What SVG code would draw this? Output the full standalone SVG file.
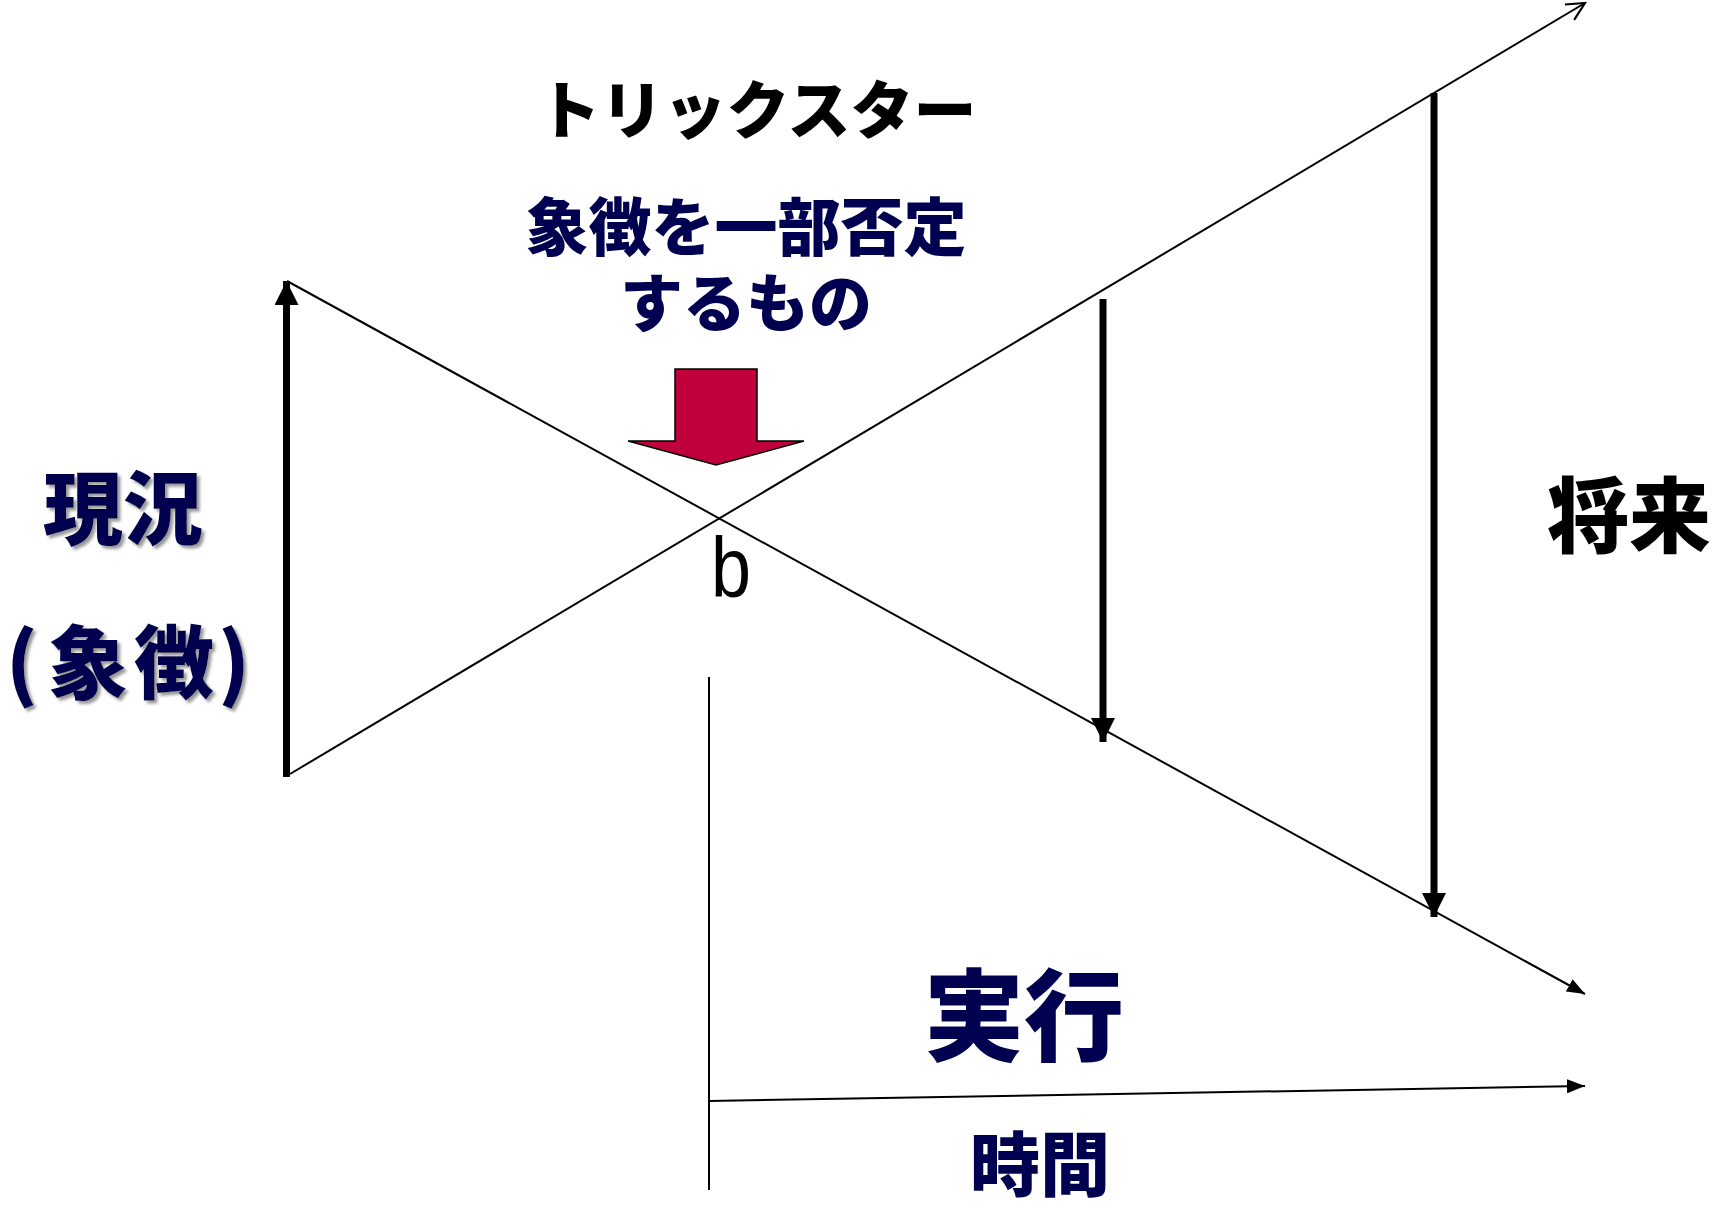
<svg xmlns="http://www.w3.org/2000/svg" width="1720" height="1211" viewBox="0 0 1720 1211">
  <style>
    .jp { font-family: "Noto Sans CJK JP", sans-serif; font-weight: 900; text-anchor: middle; }
    .navy { fill: #000050; }
    .blk { fill: #000000; }
    .thin { stroke: #000; stroke-width: 2; fill: none; }
    .thick { stroke: #000; stroke-width: 7; fill: none; }
  </style>
  <defs>
    <marker id="bigHead" markerUnits="userSpaceOnUse" viewBox="0 0 24 24" refX="24" refY="12" markerWidth="24" markerHeight="24" orient="auto">
      <path d="M0,0 L24,12 L0,24 Z" fill="#000"/>
    </marker>
    <marker id="smallHead" markerUnits="userSpaceOnUse" viewBox="0 0 18 14" refX="18" refY="7" markerWidth="18" markerHeight="14" orient="auto">
      <path d="M0,0 L18,7 L0,14 Z" fill="#000"/>
    </marker>
    <marker id="openHead" markerUnits="userSpaceOnUse" viewBox="0 0 22 22" refX="20" refY="11" markerWidth="22" markerHeight="22" orient="auto">
      <path d="M2,2 L20,11 L2,20" fill="none" stroke="#000" stroke-width="2.2"/>
    </marker>
    <filter id="shadow" x="-10%" y="-10%" width="130%" height="130%">
      <feDropShadow dx="3" dy="3" stdDeviation="1.5" flood-color="#808080" flood-opacity="0.8"/>
    </filter>
  </defs>

  <g id="connectors">
    <line class="thin" x1="287" y1="281" x2="1585" y2="994" marker-end="url(#smallHead)"/>
    <line class="thin" x1="290" y1="774" x2="1585" y2="3" marker-end="url(#openHead)"/>
    <line class="thick" x1="286.5" y1="777" x2="286.5" y2="281" marker-end="url(#bigHead)"/>
    <line class="thick" x1="1103" y1="299" x2="1103" y2="742" marker-end="url(#bigHead)"/>
    <line class="thick" x1="1434" y1="93" x2="1434" y2="917" marker-end="url(#bigHead)"/>
    <line class="thin" x1="709" y1="677" x2="709" y2="1190"/>
    <line class="thin" x1="709" y1="1101" x2="1585" y2="1086" marker-end="url(#smallHead)"/>
  </g>

  <g id="red-arrow">
    <path d="M675,369 L757,369 L757,441 L804,441 L716,465 L628,441 L675,441 Z" fill="#c0003c" stroke="#000" stroke-width="1.5"/>
  </g>

  <g id="trickster">
    <text class="jp blk" x="757" y="133" font-size="63">トリックスター</text>
  </g>
  <g id="negation">
    <text class="jp navy" x="746" y="250" font-size="63">象徴を一部否定</text>
    <text class="jp navy" x="746" y="326" font-size="63">するもの</text>
  </g>
  <g id="present" filter="url(#shadow)">
    <text class="jp navy" x="123" y="538" font-size="80">現況</text>
    <text class="navy" x="6" y="692" font-family="Noto Sans CJK JP, sans-serif" font-weight="900" font-size="80">(<tspan dx="10">象</tspan><tspan dx="6">徴</tspan><tspan dx="4">)</tspan></text>
  </g>
  <g id="future">
    <text class="jp blk" x="1629" y="546" font-size="82">将来</text>
  </g>
  <g id="execution">
    <text class="jp navy" x="1024" y="1053" font-size="100">実行</text>
  </g>
  <g id="time">
    <text class="jp navy" x="1040" y="1191" font-size="70">時間</text>
  </g>
  <g id="point-b">
    <text x="711" y="597" font-family="Liberation Sans, sans-serif" font-size="86" textLength="40" lengthAdjust="spacingAndGlyphs" fill="#000">b</text>
  </g>
</svg>
